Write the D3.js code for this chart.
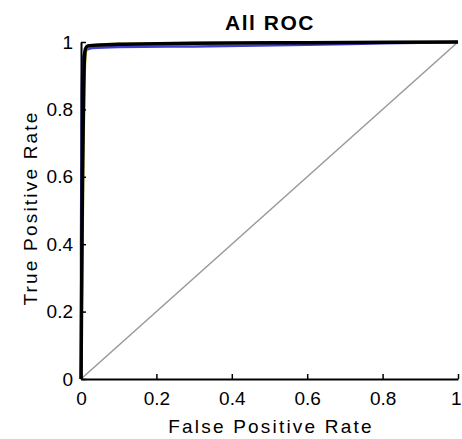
<!DOCTYPE html>
<html>
<head>
<meta charset="utf-8">
<script src="https://cdn.jsdelivr.net/npm/d3@7"></script>
<style>
  body { margin: 0; background: #fff; }
  text { font-family: "Liberation Sans", Arial, sans-serif; }
</style>
</head>
<body>
<svg id="chart" width="462" height="439"></svg>
<script>
// ROC curves (fpr, tpr)
var blackFpr = [0, 0.002, 0.004, 0.007, 0.009, 0.012, 0.018, 0.03, 0.1, 0.3, 0.6, 1];
var blackTpr = [0, 0.3, 0.6, 0.85, 0.95, 0.98, 0.988, 0.99, 0.993, 0.996, 0.998, 1];
var yellowFpr = [0, 0.004, 0.008, 0.011, 0.015, 0.025, 0.08, 0.3, 0.6, 1];
var yellowTpr = [0, 0.4, 0.8, 0.94, 0.98, 0.99, 0.994, 0.997, 0.998, 1];
var blueFpr = [0, 0, 0.002, 0.005, 0.012, 0.03, 0.1, 0.3, 0.6, 0.8, 1];
var blueTpr = [0, 0.4, 0.85, 0.95, 0.975, 0.982, 0.985, 0.987, 0.992, 0.996, 1];
var ticks = [0, 0.2, 0.4, 0.6, 0.8, 1];
var tickLabels = ['0', '0.2', '0.4', '0.6', '0.8', '1'];

var svg = d3.select('#chart');
var x = d3.scaleLinear().domain([0, 1]).range([81, 458]);
var y = d3.scaleLinear().domain([0, 1]).range([379, 42]);

function pts(xs, ys){
  return xs.map(function(d, i){ return [d, ys[i]]; });
}

var line = d3.line()
  .x(function(d){ return x(d[0]); })
  .y(function(d){ return y(d[1]); })
  .curve(d3.curveMonotoneX);

// chance diagonal
svg.append('line')
  .attr('x1', x(0)).attr('y1', y(0))
  .attr('x2', x(1)).attr('y2', y(1))
  .style('stroke', '#999')
  .style('stroke-width', 1.5);

svg.append('path')
  .attr('d', line(pts(blueFpr, blueTpr)))
  .style('fill', 'none')
  .style('stroke', '#4040d0')
  .style('stroke-width', 2.5);

svg.append('path')
  .attr('d', line(pts(yellowFpr, yellowTpr)))
  .style('fill', 'none')
  .style('stroke', '#b0b030')
  .style('stroke-width', 2.5);

svg.append('path')
  .attr('d', line(pts(blackFpr, blackTpr)))
  .style('fill', 'none')
  .style('stroke', '#000')
  .style('stroke-width', 3.5)
  .style('stroke-linejoin', 'round');

// axes
var xAxis = d3.axisBottom(x).tickValues(ticks)
  .tickFormat(function(d, i){ return tickLabels[i]; })
  .tickSizeInner(-5).tickSizeOuter(0).tickPadding(13);
var yAxis = d3.axisLeft(y).tickValues(ticks)
  .tickFormat(function(d, i){ return tickLabels[i]; })
  .tickSizeInner(-5).tickSizeOuter(0).tickPadding(8);

var gx = svg.append('g').attr('transform', 'translate(0,' + y(0) + ')').call(xAxis);
var gy = svg.append('g').attr('transform', 'translate(' + x(0) + ',0)').call(yAxis);
[gx, gy].forEach(function(g){
  g.select('.domain').style('stroke', '#000').style('stroke-width', 2);
  g.selectAll('.tick line').style('stroke', '#000').style('stroke-width', 1.5);
  g.selectAll('.tick text').style('font-size', '19px').style('fill', '#000');
});
// keep the last x label inside the window
gx.selectAll('.tick text').filter(function(d){ return d === 1; })
  .attr('text-anchor', 'end').attr('x', 3);

svg.append('text')
  .attr('x', 270).attr('y', 30)
  .attr('text-anchor', 'middle')
  .style('font-size', '21px')
  .style('font-weight', 'bold')
  .style('letter-spacing', '1.5px')
  .text('All ROC');

svg.append('text')
  .attr('x', 271).attr('y', 433)
  .attr('text-anchor', 'middle')
  .style('font-size', '19px')
  .style('letter-spacing', '2.2px')
  .text('False Positive Rate');

svg.append('text')
  .attr('transform', 'translate(37,208) rotate(-90)')
  .attr('text-anchor', 'middle')
  .style('font-size', '19px')
  .style('letter-spacing', '2.2px')
  .text('True Positive Rate');
</script>
</body>
</html>
